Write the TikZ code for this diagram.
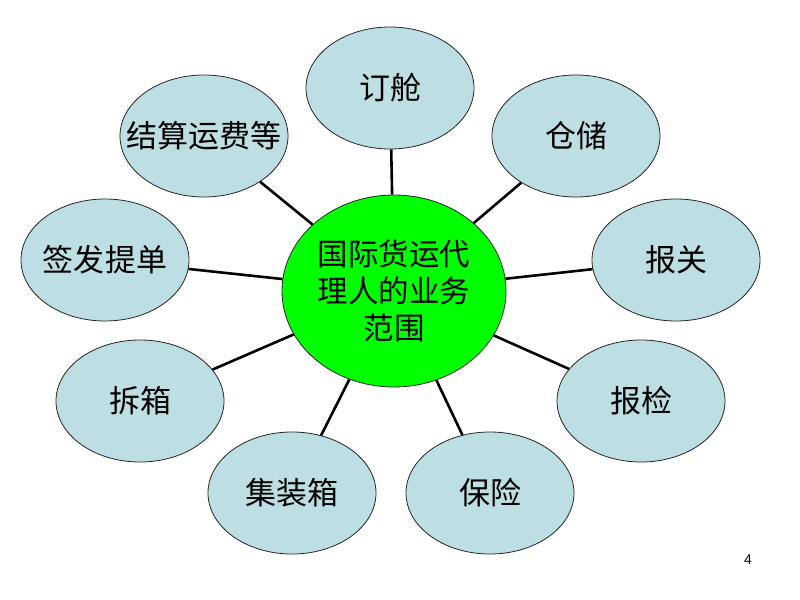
\documentclass[tikz,border=0pt]{standalone}
\usepackage{fontspec}
\setmainfont{Liberation Sans}
\newfontfamily\cjk{Noto Sans CJK SC}
\usetikzlibrary{shapes.geometric}

\definecolor{bubblefill}{RGB}{189,222,226}
\definecolor{corefill}{RGB}{0,255,0}

\begin{document}
\begin{tikzpicture}[x=1bp, y=-1bp,
    bubble/.style={ellipse, draw=black!85, line width=0.8bp, fill=bubblefill,
        minimum width=168bp, minimum height=122bp, inner ysep=0pt, inner xsep=-20bp,
        font=\cjk\fontsize{31bp}{37bp}\selectfont},
    core/.style={ellipse, draw=black!85, line width=0.8bp, fill=corefill,
        minimum width=224bp, minimum height=192bp, inner sep=0pt, align=center,
        font=\cjk\fontsize{30.5bp}{37bp}\selectfont},
    spoke/.style={line width=2.6bp, black}]
    \useasboundingbox (0, 0) rectangle (800, 600);

    % Centre of the diagram
    \node[core] (scope) at (394, 291) {国际货运代\\理人的业务\\范围};

    % Surrounding tasks
    \node[bubble] (booking)   at (390, 88)  {订舱};
    \node[bubble] (storage)   at (576, 136) {仓储};
    \node[bubble] (customs)   at (676, 260) {报关};
    \node[bubble] (inspect)   at (641, 401) {报检};
    \node[bubble] (insure)    at (490, 493) {保险};
    \node[bubble] (container) at (292, 493) {集装箱};
    \node[bubble] (unpack)    at (140, 401) {拆箱};
    \node[bubble] (billing)   at (105, 260) {签发提单};
    \node[bubble] (freight)   at (204, 136) {结算运费等};

    % Spokes from centre to each task
    \foreach \task in {booking, storage, customs, inspect, insure,
                       container, unpack, billing, freight} {
        \draw[spoke] (scope) -- (\task);
    }

    % Page number
    \node[font=\fontsize{14bp}{16bp}\selectfont] (pagenum) at (748, 560) {4};
\end{tikzpicture}
\end{document}
